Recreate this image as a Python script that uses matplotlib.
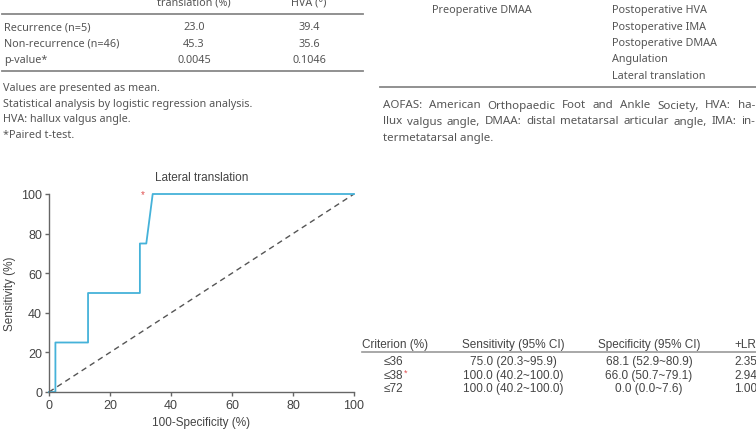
import matplotlib
matplotlib.use("Agg")
import matplotlib.pyplot as plt
from matplotlib.lines import Line2D
from matplotlib.font_manager import FontProperties

# ---------------- data ----------------
top_headers = ["translation (%)", "HVA (°)"]
group_names = ["Recurrence (n=5)", "Non-recurrence (n=46)", "p-value*"]
lat_translation = ["23.0", "45.3", "0.0045"]
hva_values = ["39.4", "35.6", "0.1046"]
left_notes = ["Values are presented as mean.",
              "Statistical analysis by logistic regression analysis.",
              "HVA: hallux valgus angle.",
              "*Paired t-test."]

pre_vars = ["Preoperative DMAA"]
post_vars = ["Postoperative HVA", "Postoperative IMA", "Postoperative DMAA",
             "Angulation", "Lateral translation"]
right_note_lines = ["AOFAS: American Orthopaedic Foot and Ankle Society, HVA: ha-",
                    "llux valgus angle, DMAA: distal metatarsal articular angle, IMA: in-",
                    "termetatarsal angle."]

roc_fpr = [0, 2.1, 2.1, 12.8, 12.8, 29.8, 29.8, 31.9, 34.0, 100]
roc_tpr = [0, 0, 25, 25, 50, 50, 75, 75, 100, 100]
optimal_point = (30.6, 100)

crit_headers = ["Criterion (%)", "Sensitivity (95% CI)", "Specificity (95% CI)", "+LR"]
criteria = ["≤36", "≤38", "≤72"]
sensitivity = ["75.0 (20.3~95.9)", "100.0 (40.2~100.0)", "100.0 (40.2~100.0)"]
specificity = ["68.1 (52.9~80.9)", "66.0 (50.7~79.1)", "0.0 (0.0~7.6)"]
plus_lr = ["2.35", "2.94", "1.00"]

# ---------------- layout helpers ----------------
W, H = 756, 439
fig = plt.figure(figsize=(W / 100, H / 100), dpi=100)

TOP_SIZE = 7.8

def P(x, y):
    return x / W, 1 - y / H

def txt(x, y, s, ha="left", size=TOP_SIZE, color="#555555", family="Noto Sans",
        va="center", **kw):
    fx, fy = P(x, y)
    return fig.text(fx, fy, s, ha=ha, va=va, fontsize=size, color=color,
                    family=family, **kw)

def hline(x0, x1, y, color="#888888", lw=1.3):
    fig.add_artist(Line2D([x0 / W, x1 / W], [1 - y / H, 1 - y / H],
                          color=color, lw=lw, transform=fig.transFigure))

# ---------------- top-left table ----------------
txt(194, 3, top_headers[0], ha="center")
txt(309, 3, top_headers[1], ha="center")
hline(2, 363, 15)
for i, (g, a, b) in enumerate(zip(group_names, lat_translation, hva_values)):
    y = 28 + i * 16.2
    txt(4, y, g)
    txt(194, y, a, ha="center")
    txt(309, y, b, ha="center")
hline(2, 363, 72)
for i, n in enumerate(left_notes):
    txt(3, 88 + i * 16, n)

# ---------------- top-right list ----------------
for i, v in enumerate(pre_vars):
    txt(432, 11 + i * 16.3, v)
for i, v in enumerate(post_vars):
    txt(612, 11 + i * 16.3, v)
hline(380, 756, 88)

# justified note: whole words, evenly spread, common baseline
fig.canvas.draw()
renderer = fig.canvas.get_renderer()
left_x, right_x = 383, 755
NOTE_SIZE = 8.3
note_prop = FontProperties(family="Noto Sans", size=NOTE_SIZE)

def word_width(w):
    return renderer.get_text_width_height_descent(w, note_prop, ismath=False)[0]

for i, line in enumerate(right_note_lines):
    yb = 108.5 + i * 16
    if i == len(right_note_lines) - 1:
        txt(left_x, yb, line, size=NOTE_SIZE, va="baseline")
        continue
    words = line.split(" ")
    widths = [word_width(w) for w in words]
    gap = (right_x - left_x - sum(widths)) / (len(words) - 1)
    x = left_x
    for w, wd in zip(words, widths):
        txt(x, yb, w, size=NOTE_SIZE, va="baseline")
        x += wd + gap

# ---------------- ROC chart ----------------
ax_l, ax_r, ax_t, ax_b = 49, 354, 195, 393
ax = fig.add_axes([ax_l / W, 1 - ax_b / H, (ax_r - ax_l) / W, (ax_b - ax_t) / H])
ax.set_xlim(0, 100)
ax.set_ylim(0, 100)
ax.plot([0, 100], [0, 100], ls=(0, (4, 3)), color="#555555", lw=1.0, clip_on=False)
ax.plot(roc_fpr, roc_tpr, color="#45b2d9", lw=1.3, clip_on=False)
ax.text(optimal_point[0], optimal_point[1], "*", color="#e05050", ha="center",
        va="center", fontsize=7, family="Liberation Sans")
for s in ["top", "right"]:
    ax.spines[s].set_visible(False)
for s in ["left", "bottom"]:
    ax.spines[s].set_color("#666666")
    ax.spines[s].set_linewidth(1.0)
ax.set_xticks([0, 20, 40, 60, 80, 100])
ax.set_yticks([0, 20, 40, 60, 80, 100])
ax.tick_params(direction="out", length=3, width=1, color="#666666",
               labelsize=9, labelcolor="#444444", pad=2)
for lab in ax.get_xticklabels() + ax.get_yticklabels():
    lab.set_family("Liberation Sans")
ax.set_xlabel("100-Specificity (%)", fontsize=8.5, color="#444444",
              family="Liberation Sans", labelpad=4)
ax.set_ylabel("Sensitivity (%)", fontsize=8.5, color="#444444",
              family="Liberation Sans", labelpad=4)
ax.set_title("Lateral translation", fontsize=8.5, color="#444444",
             family="Liberation Sans", pad=10)

# ---------------- criterion table ----------------
AR = "Liberation Sans"
TS = 8.5
TC = "#444444"
txt(362, 345, crit_headers[0], size=TS, color=TC, family=AR)
txt(513, 345, crit_headers[1], ha="center", size=TS, color=TC, family=AR)
txt(649, 345, crit_headers[2], ha="center", size=TS, color=TC, family=AR)
txt(734, 345, crit_headers[3], size=TS, color=TC, family=AR)
hline(362, 756, 353, color="#999999", lw=1.2)
for i in range(len(criteria)):
    y = 362 + i * 13.6
    txt(393, y, criteria[i], ha="center", size=TS, color=TC, family=AR)
    if i == 1:
        txt(404, y - 2.5, "*", size=6.5, color="#e05050", family=AR)
    txt(513, y, sensitivity[i], ha="center", size=TS, color=TC, family=AR)
    txt(649, y, specificity[i], ha="center", size=TS, color=TC, family=AR)
    txt(734, y, plus_lr[i], size=TS, color=TC, family=AR)

fig.savefig("out.png", dpi=100)
